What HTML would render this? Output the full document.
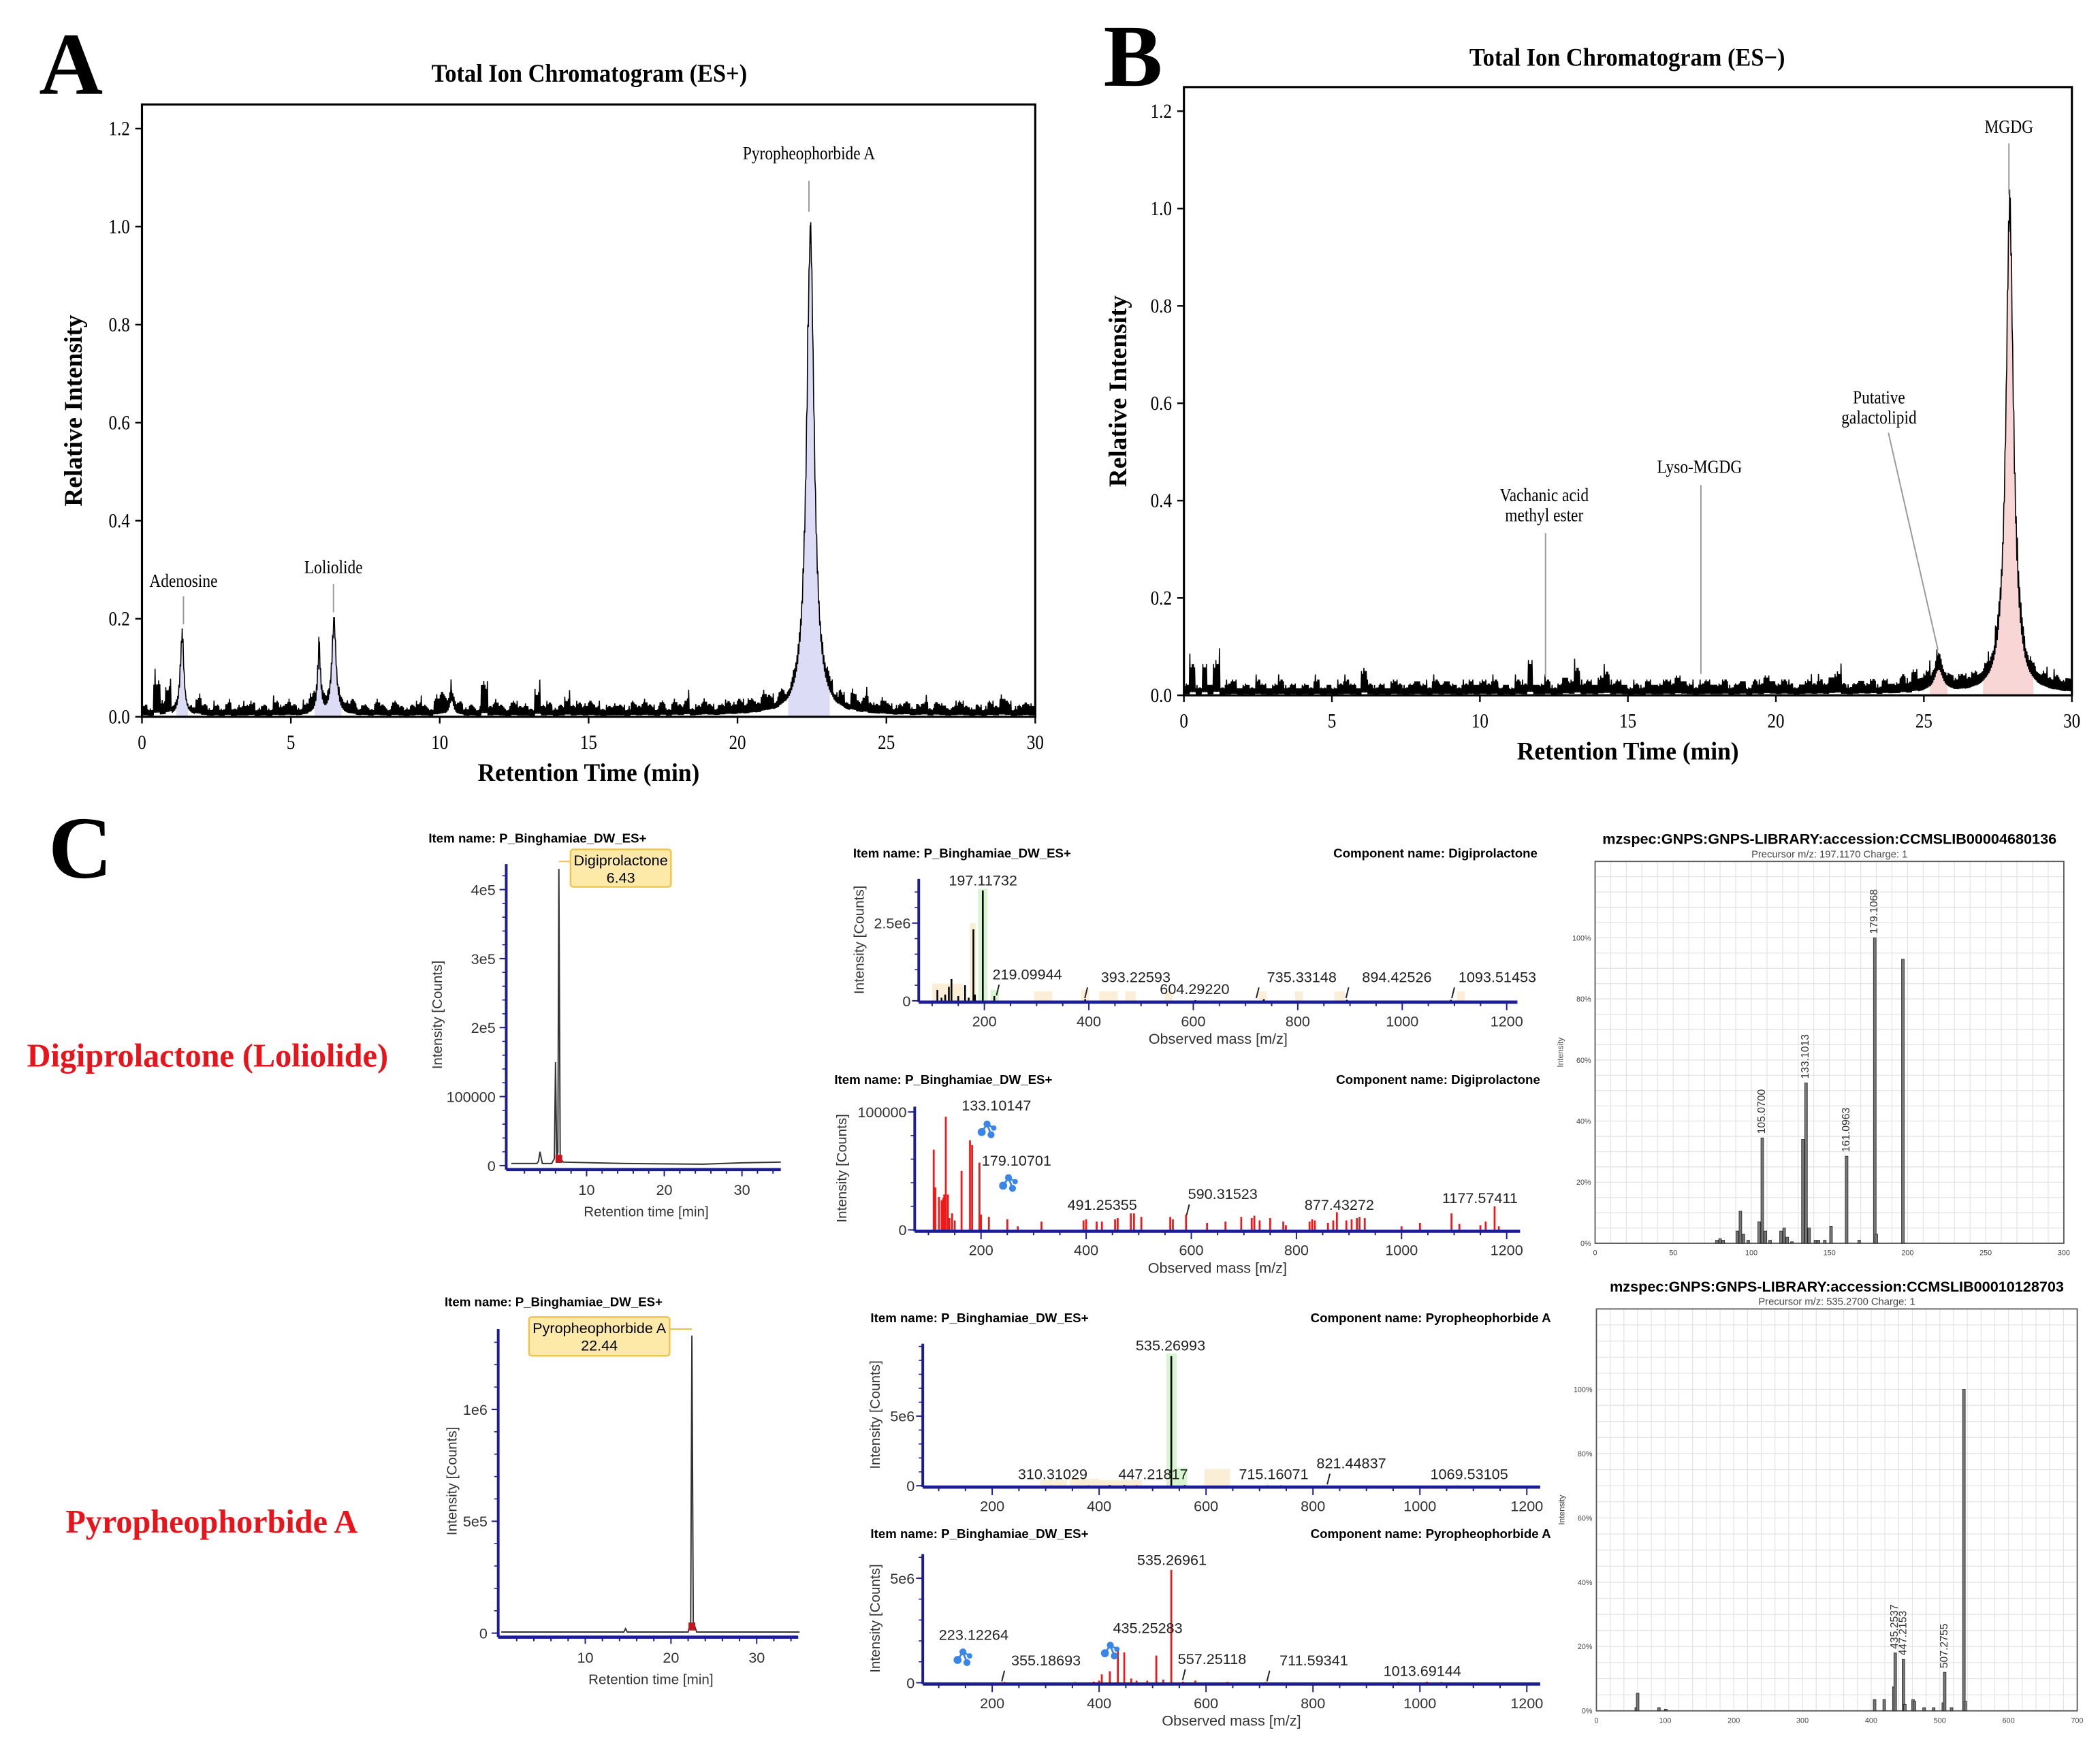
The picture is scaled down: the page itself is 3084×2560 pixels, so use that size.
<!DOCTYPE html>
<html><head><meta charset="utf-8"><title>Chromatograms and spectra</title>
<style>
html,body{margin:0;padding:0;background:#fff;}
svg{display:block;}
</style></head>
<body>
<svg id="fig" xmlns="http://www.w3.org/2000/svg" width="3084" height="2560" viewBox="0 0 1568 1301" preserveAspectRatio="none"></svg>
<script>
// ---------- DATA ----------
const ticA_noise = "3294823125"+"3232423342"+"3243432354"+"3323342324"+"3243234325"+"6434232934"+"3243327342"+"3534343233"+"3243432424"+"3523432343"+"4343542423"+"3433342425"+"3533432342"+"3424323432"+"3243542343";
const ticA_peakCenters = [1.35, 5.95, 6.45, 10.4, 22.45];
const ticA_peakHeights = [0.15, 0.11, 0.18, 0.03, 0.96];
const ticA_peakWidths  = [0.07, 0.06, 0.08, 0.08, 0.15];
const ticA_fillRanges = [[1.15,1.55],[5.8,6.7],[21.7,23.1]];
const ticB_noise = "3828392342"+"3243234232"+"3242323432"+"7323243234"+"3243432343"+"4342324393"+"3423547343"+"5634323243"+"3435432343"+"3423424354"+"3432343435"+"6323434243"+"3536453434"+"3434343435"+"4534343434";
const ticB_peakCenters = [25.5, 27.9];
const ticB_peakHeights = [0.045, 0.96];
const ticB_peakWidths  = [0.18, 0.15];
const ticB_fillRanges = [[25.2,25.8],[27.0,28.7]];
const ticYTicks = [0.0,0.2,0.4,0.6,0.8,1.0,1.2];
const ticXTicks = [0,5,10,15,20,25,30];

const chr1_times = [0.3,3.6,3.8,4.0,4.3,5.5,5.85,6.0,6.15,6.3,6.43,6.6,7.0,15,25,30,35];
const chr1_vals  = [0.03,0.03,0.06,0.2,0.03,0.03,0.1,1.5,0.1,0.2,4.3,0.1,0.05,0.03,0.02,0.04,0.05];
const chr2_times = [0.2,14.5,14.7,14.9,22.0,22.3,22.44,22.6,23.0,35];
const chr2_vals  = [0.005,0.005,0.02,0.005,0.005,0.05,1.33,0.05,0.005,0.005];

const ms1_mz  = [110,118,125,132,137,150,163,170,179,182,197,219,393,604,735,894,1093];
const ms1_int = [0.35,0.1,0.2,0.45,0.7,0.15,0.5,0.1,2.3,0.2,3.55,0.15,0.05,0.02,0.05,0.03,0.03];
const ms2_mz  = [110,113,120,125,128,130,133,137,140,145,150,163,179,183,197,200,215,250,270,315,395,400,420,430,455,460,485,491,505,560,565,590,630,665,695,715,720,730,750,775,780,825,830,835,860,870,877,895,905,915,920,930,1000,1035,1095,1110,1150,1160,1177,1185];
const ms2_int = [68,36,28,25,27,30,96,30,10,14,8,50,76,72,57,13,11,9,3,7,8,9,7,7,9,10,14,14,11,11,9,13,6,7,11,10,12,8,10,7,4,7,9,8,6,8,15,8,9,10,11,10,3,6,14,5,4,7,20,3];
const ms3_mz  = [310,380,420,447,470,535,560,715,740,821,1069];
const ms3_int = [0.02,0.03,0.05,0.05,0.03,9.3,0.05,0.03,0.03,0.02,0.02];
const ms4_mz  = [223,355,390,400,405,420,435,447,460,470,490,507,520,535,557,580,640,711,960,1013,1040];
const ms4_int = [0.04,0.03,0.05,0.1,0.4,0.55,1.6,1.45,0.2,0.1,0.1,1.3,0.15,5.4,0.05,0.1,0.04,0.03,0.03,0.05,0.03];

const g1_mz  = [78,80,82,91,93,95,98,105,107,109,112,119,121,123,126,133,135,137,141,143,147,151,161,169,179,180,197];
const g1_int = [1,1.5,1,4,10.5,3,1,7,34.5,4,1,4,5,2,0.5,34,52.5,5,1,1,1,5.5,28.5,1,100,3,93];
const g2_mz  = [58,60,91,101,405,419,433,435,447,449,461,463,477,491,505,507,517,535,537];
const g2_int = [1,5.5,1,0.5,3.5,3.5,7.5,18,16,2,3.5,3,1,1,2.5,12,1,100,3];

// ---------- HELPERS ----------
const NS = "http://www.w3.org/2000/svg";
const svg = document.getElementById('fig');
function mk(tag, attrs, name, parent){
  const e = document.createElementNS(NS, tag);
  for (const k in attrs) e.setAttribute(k, attrs[k]);
  
  
  (parent||svg).appendChild(e);
  return e;
}
function ln(x1,y1,x2,y2,stroke,w,name,p){ return mk('line',{x1:x1,y1:y1,x2:x2,y2:y2,stroke:stroke,'stroke-width':w},name,p); }
function tx(x,y,s,size,name,opt,p){
  opt = opt||{};
  const e = mk('text',{x:x,y:y,'font-size':size,'font-family':opt.font||'"Liberation Serif", serif','text-anchor':opt.anchor||'middle',fill:opt.fill||'#000','font-weight':opt.bold?'bold':'normal'},name,p);
  let tr = '';
  if (opt.rot!==undefined) tr += 'rotate('+opt.rot+' '+x+' '+y+')';
  if (opt.sx) tr += ' translate('+x+' 0) scale('+opt.sx+' 1) translate('+(-x)+' 0)';
  if (tr) e.setAttribute('transform',tr);
  e.textContent = s;
  return e;
}
const SANS = '"Liberation Sans", "DejaVu Sans", sans-serif';

// ---------- TIC CHARTS ----------
function tic(c){
  const g = mk('g',{},c.name);
  const sx = t => c.left + t/30*(c.right-c.left);
  const sy = v => c.y0 + v*(c.y12-c.y0)/1.2;
  const sig = t => { let v=0; for(let i=0;i<c.pc.length;i++){ const d=(t-c.pc[i])/c.pw[i]; v += c.ph[i]/(1+d*d);} return v; };
  const L = c.noise.length;
  const times = [];
  for (let i=0;i<1500;i++) times.push(i*0.02);
  c.pc.forEach(p=>times.push(p));
  times.sort((a,b)=>a-b);
  const vals = times.map((t,i)=>{
    const k=Math.min(L-1,Math.floor(t/0.2));
    const a=parseInt(c.noise[k])*0.01;
    const b=parseInt(c.noise[(i*3)%L])/9;
    const base = (i%2===0) ? a*(0.45+b*0.8) : a*0.08;
    const s = sig(t);
    return s + base*(1+ Math.min(s,0.3)*4);
  });
  c.fills.forEach(r=>{
    let d='M'+sx(r[0])+','+sy(0);
    times.forEach((t,i)=>{ if(t>=r[0]&&t<=r[1]) d+=' L'+sx(t).toFixed(2)+','+sy(vals[i]).toFixed(2); });
    d+=' L'+sx(r[1])+','+sy(0)+' Z';
    mk('path',{d:d,fill:c.fill,stroke:'none'},'peak-fill',g);
  });
  let d='';
  times.forEach((t,i)=>{ d+=(i?' L':'M')+sx(t).toFixed(2)+','+sy(vals[i]).toFixed(2); });
  mk('path',{d:d,fill:'none',stroke:'#000','stroke-width':0.8},'tic-trace',g);
  mk('rect',{x:c.left,y:c.top,width:c.right-c.left,height:c.bottom-c.top,fill:'none',stroke:'#000','stroke-width':1.6},'plot-frame',g);
  ticYTicks.forEach(v=>{ ln(c.left-5,sy(v),c.left,sy(v),'#000',1.2,'y-tick',g); tx(c.left-9,sy(v)+5,v.toFixed(1),15,'y-tick-label',{anchor:'end',sx:0.85},g); });
  ticXTicks.forEach(v=>{ ln(sx(v),c.bottom,sx(v),c.bottom+5,'#000',1.2,'x-tick',g); tx(sx(v),c.bottom+24,String(v),15,'x-tick-label',{sx:0.85},g); });
  tx((c.left+c.right)/2,c.bottom+48,'Retention Time (min)',19,'x-axis-title',{bold:true,sx:0.95},g);
  tx(c.ylabX,(c.top+c.bottom)/2,'Relative Intensity',19,'y-axis-title',{bold:true,rot:-90},g);
  tx(c.titleX,c.titleY,c.title,19,'chart-title',{bold:true,sx:0.92},g);
  c.ann.forEach(a=>{
    a.lines.forEach((s,i)=>tx(a.tx,a.ty+i*15,s,14,'peak-annotation',{sx:0.85},g));
    ln(a.x1,a.y1,a.x2,a.y2,'#999',1,'annotation-leader',g);
  });
  return g;
}
tic({name:'panel-a-tic-es-plus',left:106,right:773,top:78,bottom:535,y0:535,y12:96,noise:ticA_noise,pc:ticA_peakCenters,ph:ticA_peakHeights,pw:ticA_peakWidths,fills:ticA_fillRanges,fill:'#dcdcf6',
  title:'Total Ion Chromatogram (ES+)',titleX:440,titleY:61,ylabX:61,
  ann:[{lines:['Adenosine'],tx:137,ty:438,x1:137,y1:445,x2:137,y2:466},
       {lines:['Loliolide'],tx:249,ty:428,x1:249,y1:436,x2:249,y2:457},
       {lines:['Pyropheophorbide A'],tx:604,ty:119,x1:604,y1:135,x2:604,y2:158}]});
tic({name:'panel-b-tic-es-minus',left:884,right:1547,top:65,bottom:519,y0:519,y12:83,noise:ticB_noise,pc:ticB_peakCenters,ph:ticB_peakHeights,pw:ticB_peakWidths,fills:ticB_fillRanges,fill:'#f9d6d6',
  title:'Total Ion Chromatogram (ES\u2212)',titleX:1215,titleY:49,ylabX:841,
  ann:[{lines:['MGDG'],tx:1500,ty:99,x1:1500,y1:107,x2:1500,y2:145},
       {lines:['Putative','galactolipid'],tx:1403,ty:301,x1:1410,y1:323,x2:1447,y2:485},
       {lines:['Lyso-MGDG'],tx:1269,ty:353,x1:1270,y1:362,x2:1270,y2:503},
       {lines:['Vachanic acid','methyl ester'],tx:1153,ty:374,x1:1154,y1:398,x2:1154,y2:505}]});

tx(53,70,'A',66,'panel-label-a',{bold:true});
tx(846,64,'B',66,'panel-label-b',{bold:true});
tx(60,655,'C',66,'panel-label-c',{bold:true});
tx(155,796,'Digiprolactone (Loliolide)',24.5,'compound-label-digiprolactone',{bold:true,fill:'#e8141c'});
tx(158,1144,'Pyropheophorbide A',24.5,'compound-label-pyropheophorbide',{bold:true,fill:'#e8141c'});

// ---------- PANEL C CHROMATOGRAMS ----------
const NAVY = '#1c1c96';
function chrom(c){
  const g = mk('g',{},c.name);
  const sx = t => c.x0 + t*c.pxPerMin;
  const sy = v => c.base - v*c.pxPerUnit;
  tx(c.titleX,c.titleY,'Item name: P_Binghamiae_DW_ES+',9.5,'item-name',{font:SANS,bold:true,anchor:'start'},g);
  let d='';
  c.times.forEach((t,i)=>{ d+=(i?' L':'M')+sx(t).toFixed(2)+','+sy(c.vals[i]).toFixed(2); });
  mk('path',{d:d,fill:'none',stroke:'#333','stroke-width':1},'chromatogram-trace',g);
  mk('rect',{x:sx(c.peakT)-2.5,y:c.base-8,width:5,height:6,fill:'#c8141c'},'integration-marker',g);
  ln(c.axisX,c.top,c.axisX,c.base+3,NAVY,2,'y-axis',g);
  ln(c.axisX,c.base+3,c.xEnd,c.base+3,NAVY,2.4,'x-axis',g);
  c.yt.forEach((v,i)=>{ ln(c.axisX-5,sy(v),c.axisX,sy(v),NAVY,1,'y-tick',g); tx(c.axisX-8,sy(v)+4,c.ytl[i],11,'y-tick-label',{font:SANS,anchor:'end',fill:'#333'},g); });
  for(let v=0; sy(v)>c.top; v+=c.yMinor) ln(c.axisX-3,sy(v),c.axisX,sy(v),NAVY,0.8,'y-minor-tick',g);
  for(let t=2;sx(t)<c.xEnd;t+=2) ln(sx(t),c.base+3,sx(t),c.base+(t%10===0?8:6),NAVY,1,'x-tick',g);
  [10,20,30].forEach(t=>tx(sx(t),c.base+22,String(t),11,'x-tick-label',{font:SANS,fill:'#333'},g));
  tx((c.axisX+c.xEnd)/2+2,c.base+38,'Retention time [min]',10.5,'x-axis-title',{font:SANS,fill:'#333'},g);
  tx(c.ylabX,(c.top+c.base)/2,'Intensity [Counts]',10.5,'y-axis-title',{font:SANS,rot:-90,fill:'#333'},g);
  mk('rect',{x:c.box[0],y:c.box[1],width:c.box[2],height:c.box[3],fill:'#fde9a8',stroke:'#f1c24a','stroke-width':1.2,rx:2},'peak-label-box',g);
  ln(c.box[0]+(c.boxLeftLead?0:c.box[2]),c.box[1]+9,sx(c.peakT),c.box[1]+9,'#f1c24a',1,'peak-label-leader',g);
  tx(c.box[0]+c.box[2]/2,c.box[1]+12,c.l1,11,'peak-label-name',{font:SANS},g);
  tx(c.box[0]+c.box[2]/2,c.box[1]+25,c.l2,11,'peak-label-time',{font:SANS},g);
}
chrom({name:'chromatogram-digiprolactone',titleX:320,titleY:629,times:chr1_times,vals:chr1_vals,x0:380,pxPerMin:5.8,base:870,pxPerUnit:51.5,axisX:378,top:645,xEnd:583,
  yt:[0,1,2,3,4],ytl:['0','100000','2e5','3e5','4e5'],yMinor:0.2,ylabX:330,peakT:6.43,box:[426,634,75,28],boxLeftLead:true,l1:'Digiprolactone',l2:'6.43'});
chrom({name:'chromatogram-pyropheophorbide',titleX:332,titleY:975,times:chr2_times,vals:chr2_vals,x0:373,pxPerMin:6.4,base:1219,pxPerUnit:167,axisX:372,top:992,xEnd:596,
  yt:[0,0.5,1],ytl:['0','5e5','1e6'],yMinor:0.1,ylabX:341,peakT:22.44,box:[395,983,105,29],boxLeftLead:false,l1:'Pyropheophorbide A',l2:'22.44'});

// ---------- MS SPECTRA ----------
function molIcon(x,y,g){
  const gi = mk('g',{fill:'#3a86e8'},'fragment-structure-icon',g);
  [[0,-4,2.6],[5,-1,2],[-4,2,3],[3,4,2.6]].forEach(p=>mk('circle',{cx:x+p[0],cy:y+p[1],r:p[2]},'icon-atom',gi));
  [[0,-4,5,-1],[0,-4,-4,2],[0,-4,3,4]].forEach(p=>ln(x+p[0],y+p[1],x+p[2],y+p[3],'#3a86e8',1.4,'icon-bond',gi));
}
function ms(c){
  const g = mk('g',{},c.name);
  const sx = m => c.x0 + m*c.pxPerMz;
  const sy = v => c.base - v*c.pxPerUnit;
  tx(c.hx1,c.hy,'Item name: P_Binghamiae_DW_ES+',9.5,'item-name',{font:SANS,bold:true,anchor:'start'},g);
  tx(c.hx2,c.hy,'Component name: '+c.comp,9.5,'component-name',{font:SANS,bold:true,anchor:'end'},g);
  (c.bands||[]).forEach(b=>mk('rect',{x:sx(b[0]),y:sy(b[2]),width:sx(b[1])-sx(b[0]),height:c.base-sy(b[2]),fill:b[3]},'isotope-band',g));
  c.mz.forEach((m,i)=>ln(sx(m),c.base,sx(m),sy(c.int[i]),c.color,c.color==='#000'?1.3:1.4,'ms-peak',g));
  ln(c.axisX,c.top,c.axisX,c.base+1,NAVY,2,'y-axis',g);
  ln(c.axisX,c.base+1,c.xEnd,c.base+1,NAVY,2.4,'x-axis',g);
  for(let m=100;m<=1200;m+=50) ln(sx(m),c.base+1,sx(m),c.base+(m%200===0?7:4),NAVY,1,'x-tick',g);
  [200,400,600,800,1000,1200].forEach(m=>tx(sx(m),c.base+19,String(m),11,'x-tick-label',{font:SANS,fill:'#333'},g));
  c.yt.forEach((v,i)=>{ ln(c.axisX-5,sy(v),c.axisX,sy(v),NAVY,1,'y-tick',g); tx(c.axisX-6,sy(v)+4,c.ytl[i],11,'y-tick-label',{font:SANS,anchor:'end',fill:'#333'},g); });
  for(let v=0; sy(v)>c.top; v+=c.yMinor) ln(c.axisX-3,sy(v),c.axisX,sy(v),NAVY,0.8,'y-minor-tick',g);
  if (c.xlab) tx((c.axisX+c.xEnd)/2,c.base+32,'Observed mass [m/z]',11,'x-axis-title',{font:SANS,fill:'#333'},g);
  tx(c.ylabX,(c.top+c.base)/2,'Intensity [Counts]',10.5,'y-axis-title',{font:SANS,rot:-90,fill:'#333'},g);
  c.labels.forEach(l=>{
    tx(l[1],l[2],l[0],11,'peak-mass-label',{font:SANS,fill:'#222'},g);
    if (l[3]) ln(l[3],l[2]+4,l[3]-2,l[2]+12,'#222',1,'label-leader',g);
  });
  (c.icons||[]).forEach(p=>molIcon(p[0],p[1],g));
}
ms({name:'ms-spectrum-digiprolactone-precursor',hx1:637,hx2:1148,hy:640,comp:'Digiprolactone',x0:657,pxPerMz:0.39,base:747,pxPerUnit:23.2,axisX:686,top:656,xEnd:1133,color:'#000',
  mz:ms1_mz,int:ms1_int,yt:[0,2.5],ytl:['0','2.5e6'],yMinor:0.5,ylabX:645,xlab:true,
  bands:[[100,160,0.55,'#fbeed6'],[172,184,2.5,'#fbeed6'],[188,206,3.6,'#d6f5d0'],[212,228,0.35,'#d6f5d0'],[295,330,0.3,'#fbeed6'],[385,400,0.35,'#fbeed6'],[420,455,0.3,'#fbeed6'],[470,490,0.3,'#fbeed6'],[545,560,0.3,'#fbeed6'],[725,740,0.3,'#fbeed6'],[795,810,0.3,'#fbeed6'],[870,890,0.3,'#fbeed6'],[1105,1120,0.3,'#fbeed6']],
  labels:[['197.11732',734,661],['219.09944',767,731,746],['393.22593',848,733,812],['604.29220',892,742],['735.33148',972,733,940],['894.42526',1043,733,1007],['1093.51453',1118,733,1086]]});
ms({name:'ms-spectrum-digiprolactone-fragments',hx1:623,hx2:1150,hy:809,comp:'Digiprolactone',x0:654,pxPerMz:0.3925,base:918,pxPerUnit:0.88,axisX:683,top:826,xEnd:1135,color:'#f01818',
  mz:ms2_mz,int:ms2_int,yt:[0,100],ytl:['0','100000'],yMinor:20,ylabX:632,xlab:true,
  labels:[['133.10147',744,829],['179.10701',759,870],['491.25355',823,903],['590.31523',913,895,888],['877.43272',1000,903],['1177.57411',1105,898]],
  icons:[[737,843],[753,883]]});
ms({name:'ms-spectrum-pyropheophorbide-precursor',hx1:650,hx2:1158,hy:987,comp:'Pyropheophorbide A',x0:661,pxPerMz:0.3992,base:1109,pxPerUnit:10.4,axisX:689,top:1003,xEnd:1150,color:'#000',
  mz:ms3_mz,int:ms3_int,yt:[0,5],ytl:['0','5e6'],yMinor:1,ylabX:657,xlab:false,
  bands:[[290,340,0.4,'#fbeed6'],[345,400,0.5,'#fbeed6'],[400,480,0.4,'#fbeed6'],[526,545,9.5,'#d6f5d0'],[545,565,1.3,'#d6f5d0'],[597,645,1.2,'#fbeed6']],
  labels:[['535.26993',874,1008],['310.31029',786,1104],['447.21817',861,1104],['715.16071',951,1104],['821.44837',1009,1096,993],['1069.53105',1097,1104]]});
ms({name:'ms-spectrum-pyropheophorbide-fragments',hx1:650,hx2:1158,hy:1148,comp:'Pyropheophorbide A',x0:661,pxPerMz:0.3992,base:1256,pxPerUnit:15.6,axisX:689,top:1160,xEnd:1150,color:'#f01818',
  mz:ms4_mz,int:ms4_int,yt:[0,5],ytl:['0','5e6'],yMinor:1,ylabX:657,xlab:true,
  labels:[['535.26961',875,1168],['223.12264',727,1224],['355.18693',781,1243,750],['435.25283',857,1219],['557.25118',905,1242,885],['711.59341',981,1243,948],['1013.69144',1062,1251]],
  icons:[[719,1237],[829,1232]]});

// ---------- GNPS LIBRARY SPECTRA ----------
function gnps(c){
  const g = mk('g',{},c.name);
  const sx = m => c.l + m/c.xmax*(c.r-c.l);
  const sy = v => c.b - v*c.pxPerPct;
  tx((c.l+c.r)/2,c.t-13,c.title,11,'library-title',{font:SANS,bold:true},g);
  const st = mk('text',{x:(c.l+c.r)/2,y:c.t-3,'font-size':7.5,'font-family':SANS,'text-anchor':'middle',fill:'#444'},'precursor-subtitle',g);
  st.textContent = c.sub;
  for(let m=c.gx;m<c.xmax;m+=c.gx) ln(sx(m),c.t,sx(m),c.b,'#e2e2e2',0.6,'grid-line-vertical',g);
  for(let v=5; sy(v)>c.t; v+=5) ln(c.l,sy(v),c.r,sy(v),'#e2e2e2',0.6,'grid-line-horizontal',g);
  mk('rect',{x:c.l,y:c.t,width:c.r-c.l,height:c.b-c.t,fill:'none',stroke:'#555','stroke-width':0.9},'plot-frame',g);
  c.mz.forEach((m,i)=>mk('rect',{x:sx(m)-1,y:sy(c.int[i]),width:2,height:c.b-sy(c.int[i]),fill:'#777',stroke:'#222','stroke-width':0.4},'library-peak',g));
  [0,20,40,60,80,100].forEach(v=>tx(c.l-3,sy(v)+2,v+'%',5.5,'y-tick-label',{font:SANS,anchor:'end',fill:'#444'},g));
  for(let m=0;m<=c.xmax;m+=c.xt) tx(sx(m),c.b+9,String(m),5.5,'x-tick-label',{font:SANS,fill:'#444'},g);
  tx(c.l-24,(c.t+c.b)/2,'Intensity',6,'y-axis-title',{font:SANS,rot:-90,fill:'#444'},g);
  c.labels.forEach(l=>tx(sx(l[1])+2,sy(l[2])-3,l[0],8,'peak-mass-label',{font:SANS,rot:-90,anchor:'start',fill:'#333'},g));
}
gnps({name:'gnps-library-digiprolactone',l:1191,r:1541,t:643,b:928,xmax:300,xt:50,gx:10,pxPerPct:2.28,mz:g1_mz,int:g1_int,
  title:'mzspec:GNPS:GNPS-LIBRARY:accession:CCMSLIB00004680136',sub:'Precursor m/z: 197.1170 Charge: 1',
  labels:[['179.1068',179,100],['133.1013',135,52.5],['161.0963',161,28.5],['105.0700',107,34.5]]});
gnps({name:'gnps-library-pyropheophorbide',l:1192,r:1551,t:977,b:1277,xmax:700,xt:100,gx:20,pxPerPct:2.4,mz:g2_mz,int:g2_int,
  title:'mzspec:GNPS:GNPS-LIBRARY:accession:CCMSLIB00010128703',sub:'Precursor m/z: 535.2700 Charge: 1',
  labels:[['435.2537',435,18],['447.2153',447,16],['507.2755',507,12]]});
</script>
</body></html>
